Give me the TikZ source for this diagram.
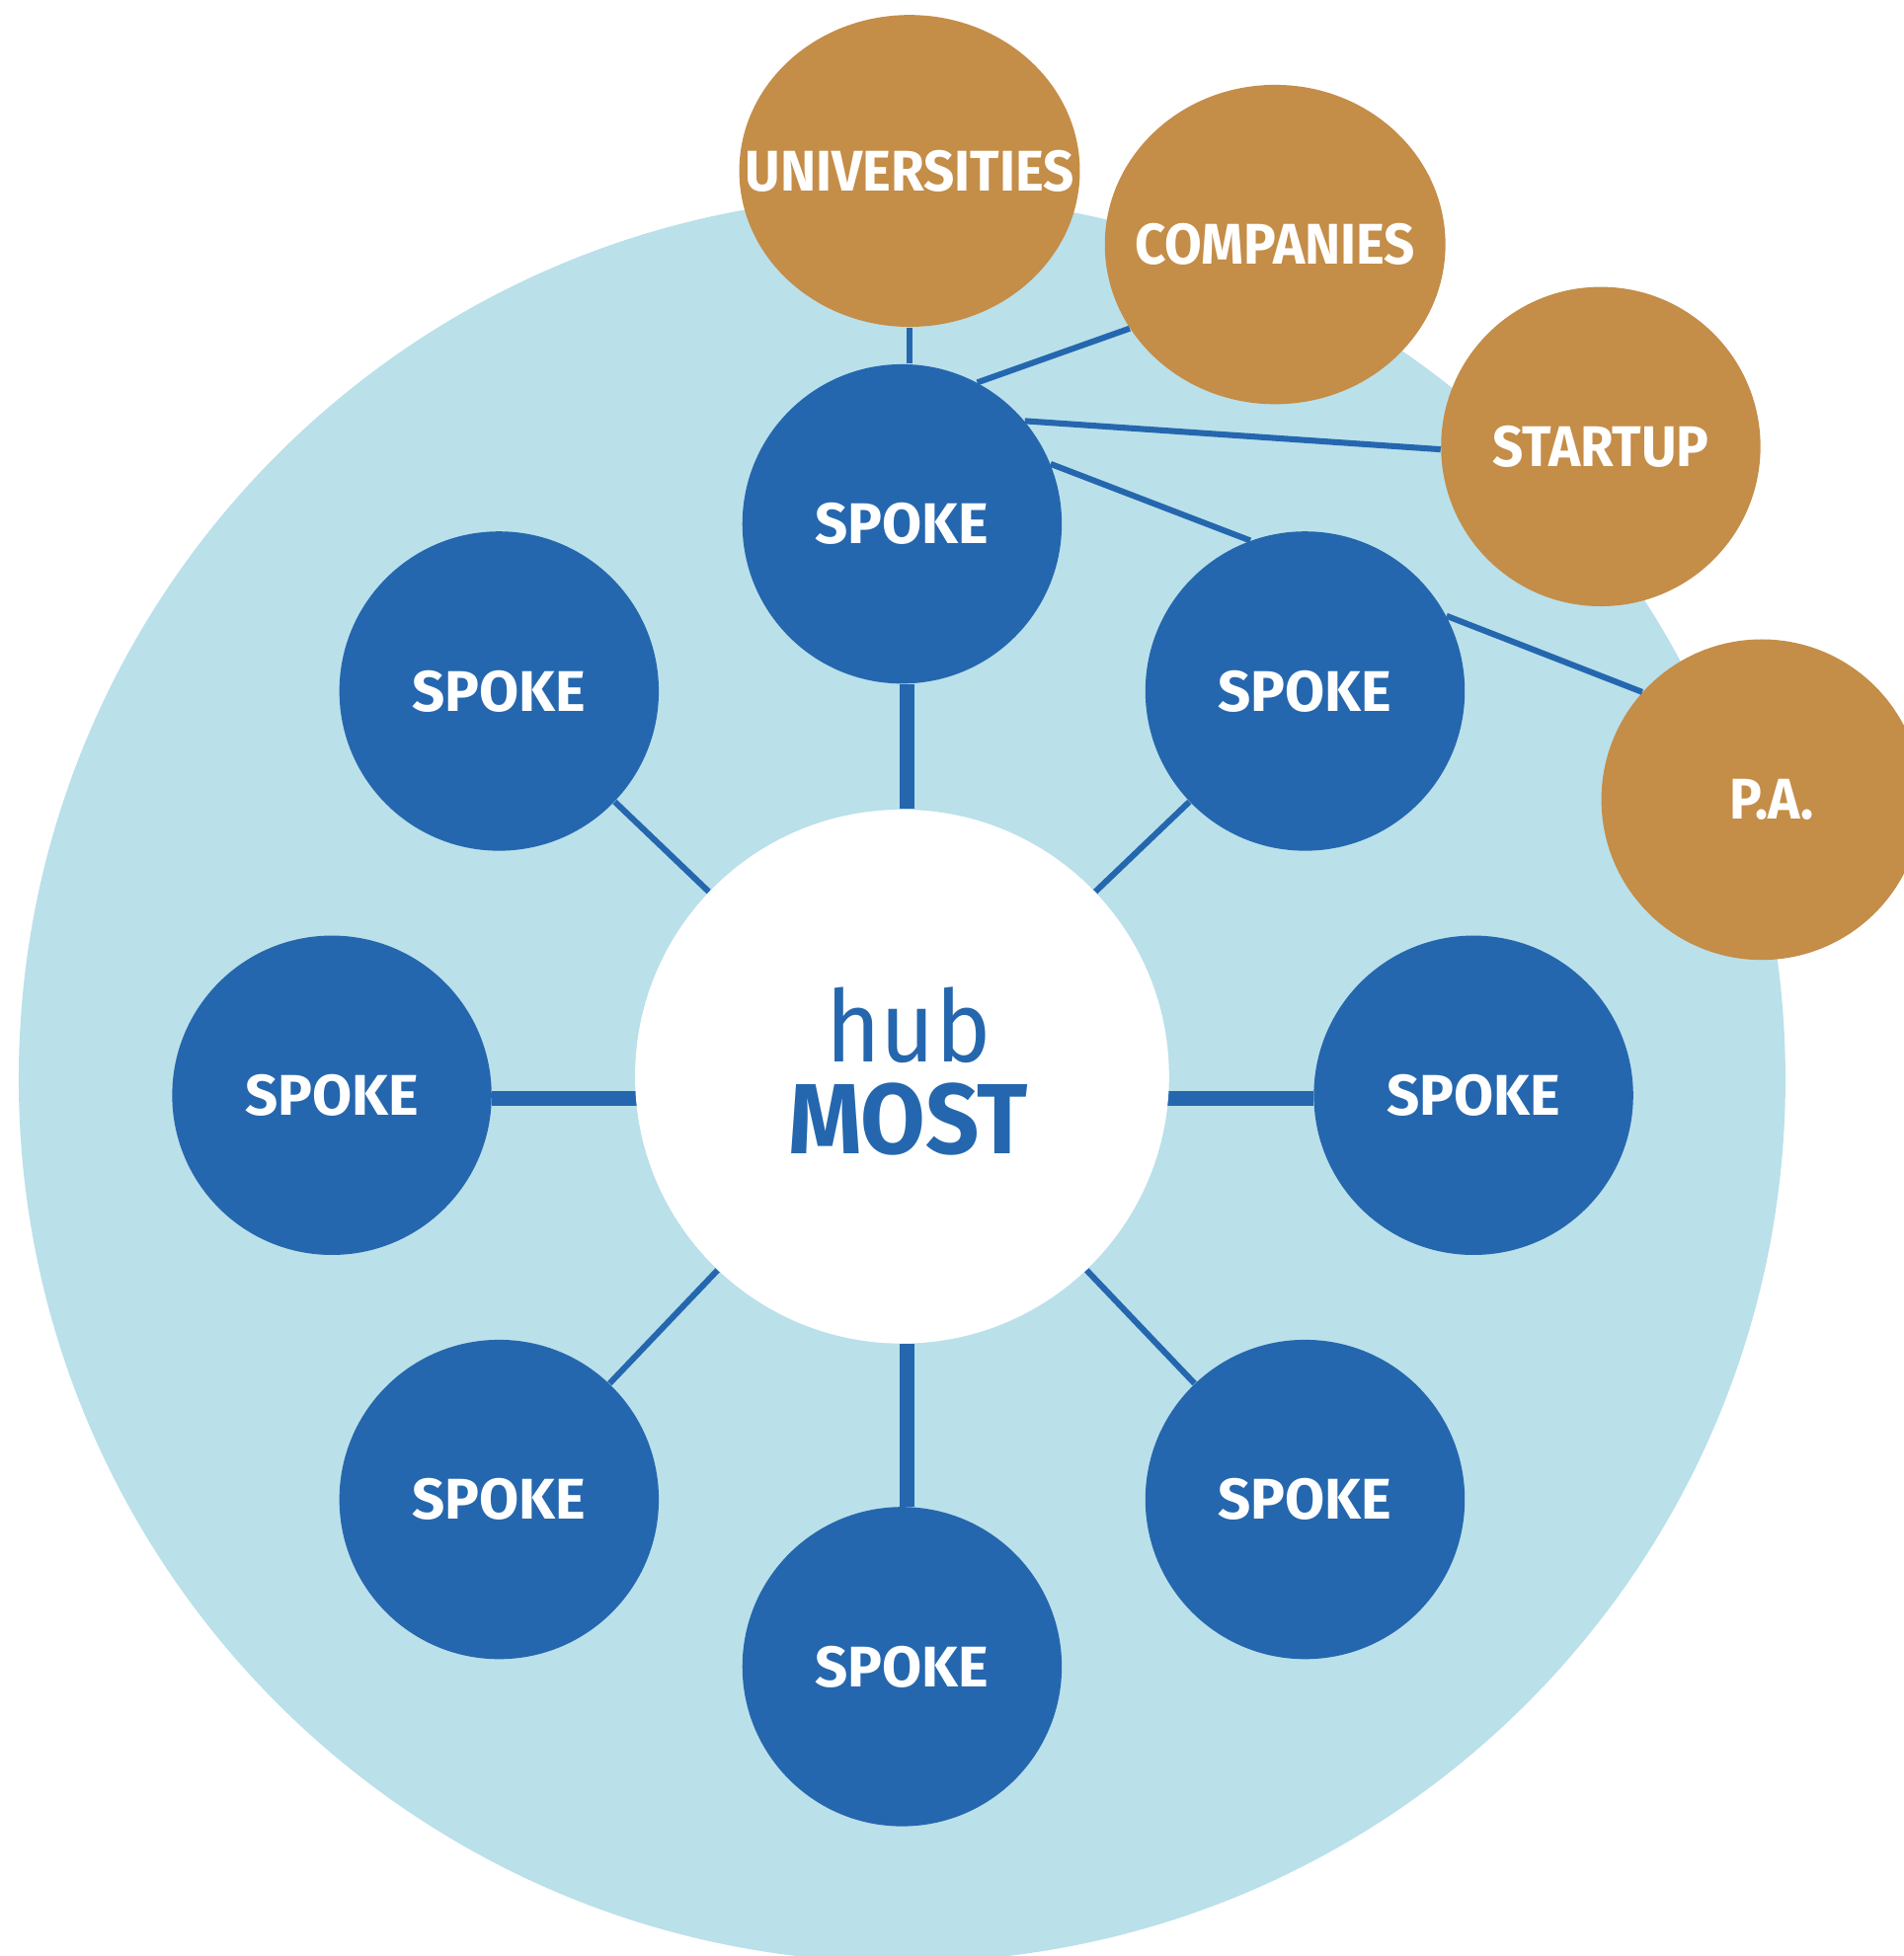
\documentclass[tikz,border=0pt]{standalone}
\usepackage{fontspec}
\setmainfont{Fira Sans}
\newfontfamily\narrowfont{Fira Sans}[FakeStretch=0.94]
\usetikzlibrary{shapes.geometric,backgrounds}
\definecolor{spokeblue}{HTML}{2567AE}
\definecolor{ringblue}{HTML}{BAE0EA}
\definecolor{partnergold}{HTML}{C48D48}
\begin{document}
\begin{tikzpicture}[x=0.5pt,y=0.5pt,yscale=-1,xscale=1,
    spoke/.style={circle,fill=spokeblue,minimum size=128pt,inner sep=0pt,text=white,font=\bfseries\fontsize{23}{23}\selectfont},
    hubnode/.style={circle,fill=white,minimum size=214pt,inner sep=0pt,text=spokeblue,align=center,font=\narrowfont\fontsize{40}{37}\selectfont},
    partner/.style={ellipse,fill=partnergold,inner sep=0pt},
    partnertext/.style={text=white,font=\narrowfont\bfseries\fontsize{23}{23}\selectfont},
    thinlink/.style={draw=spokeblue,line width=2.4pt},
    thicklink/.style={draw=spokeblue,line width=5.7pt}]
    %set diagram left start at 0, and has height of 1568
    \useasboundingbox (0,0) rectangle (1526,1568);

    % Hub
    \node[hubnode] (hub) at (723,863) {\hspace*{5pt}\raisebox{5pt}{hub}\\\hspace*{5pt}{\bfseries\raisebox{5pt}{MOST}}};

    % Spokes
    \node[spoke] (stop) at (723,420) {SPOKE};
    \node[spoke] (sul) at (400,554) {SPOKE};
    \node[spoke] (sur) at (1046,554) {SPOKE};
    \node[spoke] (sleft) at (266,878) {SPOKE};
    \node[spoke] (sright) at (1181,878) {SPOKE};
    \node[spoke] (sll) at (400,1202) {SPOKE};
    \node[spoke] (slr) at (1046,1202) {SPOKE};
    \node[spoke] (sbot) at (723,1336) {SPOKE};

    % Partners
    \node[partner,minimum width=136.5pt,minimum height=125pt,label={[partnertext]center:UNIVERSITIES}] (univ) at (729,137) {};
    \node[partner,minimum width=136.5pt,minimum height=128pt,label={[partnertext]center:COMPANIES}] (comp) at (1022,196) {};
    \node[partner,minimum size=128pt,label={[partnertext]center:STARTUP}] (start) at (1283,358) {};
    \node[partner,minimum size=128.5pt,label={[partnertext,xshift=4pt]center:P.A.}] (pa) at (1412,641) {};

    \begin{scope}[on background layer]
    % Ring
    \fill[ringblue] (723,865) circle[radius=354pt];
    % Hub links
    \draw[thicklink] ([xshift=2pt]stop.south) -- ([xshift=2pt]stop.south |- hub.north);
    \draw[thicklink] ([xshift=2pt]sbot.north) -- ([xshift=2pt]sbot.north |- hub.south);
    \draw[thicklink] ([yshift=1.3pt]sleft.east) -- ([yshift=1.3pt]sleft.east -| hub);
    \draw[thicklink] ([yshift=1.3pt]sright.west) -- ([yshift=1.3pt]sright.west -| hub);
    \draw[thinlink] (sul) -- (hub);
    \draw[thinlink] (sur) -- (hub);
    \draw[thinlink] (sll) -- (hub);
    \draw[thinlink] (slr) -- (hub);
    % Partner links
    \draw[thinlink] (univ) -- (univ |- stop.north);
    \draw[thinlink] (stop.62) -- (comp.210);
    \draw[thinlink] (stop.40) -- (start.181);
    \draw[thinlink] (stop.22) -- (sur.110);
    \end{scope}
    \draw[thinlink] (sur.28) -- (pa.138);

\end{tikzpicture}
\end{document}
